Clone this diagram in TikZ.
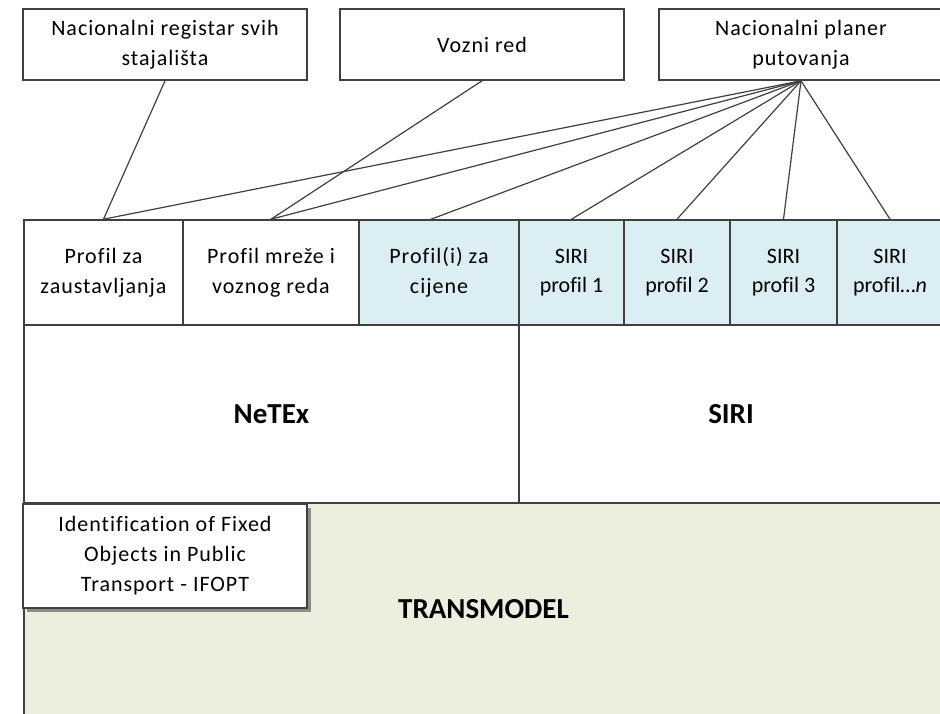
\documentclass[tikz,border=0pt]{standalone}
\usepackage{fontspec}
\setmainfont[Ligatures=NoCommon]{Carlito}
\newfontfamily\spacedfont[LetterSpace=4.5,Ligatures=NoCommon]{Carlito}
\usetikzlibrary{shadows}
\definecolor{ln}{HTML}{404040}
\definecolor{bluec}{HTML}{DAEEF3}
\definecolor{greenc}{HTML}{EAF0DD}
\begin{document}
\begin{tikzpicture}[x=1pt,y=-1pt,
  cell/.style={draw=ln,line width=1.6pt,rectangle,inner sep=0pt,align=center,text=black},
  sp/.style={cell,font=\spacedfont\fontsize{22}{30}\selectfont},
  pl/.style={cell,font=\fontsize{22}{29}\selectfont},
  big/.style={cell,font=\bfseries\fontsize{29}{34}\selectfont},
  wide/.style={minimum width=284pt,minimum height=71pt},
  prof/.style={minimum height=105pt},
  conn/.style={draw=ln,line width=1.2pt}
]
\useasboundingbox (0,0) rectangle (940,713);
\clip (0,0) rectangle (940,713);
\fill[white] (0,0) rectangle (940,713);

% bottom layer
\node[big,fill=greenc,minimum width=919pt,minimum height=213pt] (tm) at (483.5,609.5) {TRANSMODEL};
\node[sp,fill=white,minimum width=284pt,minimum height=104pt,
  drop shadow={shadow xshift=4pt,shadow yshift=-4pt,opacity=0.4,fill=black}] (ifopt) at (165,556)
  {Identification of Fixed\\Objects in Public\\Transport - IFOPT};

% middle layer
\node[big,fill=white,minimum width=495pt,minimum height=178pt] (netex) at (271.5,414) {NeTEx};
\node[big,fill=white,minimum width=424pt,minimum height=178pt] (siri) at (731,414) {SIRI};

% profiles
\node[sp,prof,fill=white,minimum width=159pt] (p1) at (103.5,272.5) {Profil za\\zaustavljanja};
\node[sp,prof,fill=white,minimum width=176pt] (p2) at (271,272.5) {Profil mreže i\\voznog reda};
\node[sp,prof,fill=bluec,minimum width=160pt] (p3) at (439,272.5) {Profil(i) za\\cijene};
\node[pl,prof,fill=bluec,minimum width=105pt] (s1) at (571.5,272.5) {SIRI\\profil 1};
\node[pl,prof,fill=bluec,minimum width=106pt] (s2) at (677,272.5) {SIRI\\profil 2};
\node[pl,prof,fill=bluec,minimum width=107pt] (s3) at (783.5,272.5) {SIRI\\profil 3};
\node[pl,prof,fill=bluec,minimum width=106pt] (sn) at (890,272.5) {SIRI\\profil\ldots\textit{n}};

% top boxes
\node[sp,wide,fill=white] (reg) at (165,44.5) {Nacionalni registar svih\\stajališta};
\node[sp,wide,fill=white] (vr) at (482,44.5) {Vozni red};
\node[sp,wide,fill=white] (np) at (801,44.5) {Nacionalni planer\\putovanja};

% connectors
\draw[conn] (reg.south) -- (p1.north);
\draw[conn] (vr.south) -- (p2.north);
\draw[conn] (np.south) -- (p1.north);
\draw[conn] (np.south) -- (p2.north);
\draw[conn] (np.south) -- ([xshift=-8pt]p3.north);
\draw[conn] (np.south) -- (s1.north);
\draw[conn] (np.south) -- (s2.north);
\draw[conn] (np.south) -- (s3.north);
\draw[conn] (np.south) -- (sn.north);
\end{tikzpicture}
\end{document}
